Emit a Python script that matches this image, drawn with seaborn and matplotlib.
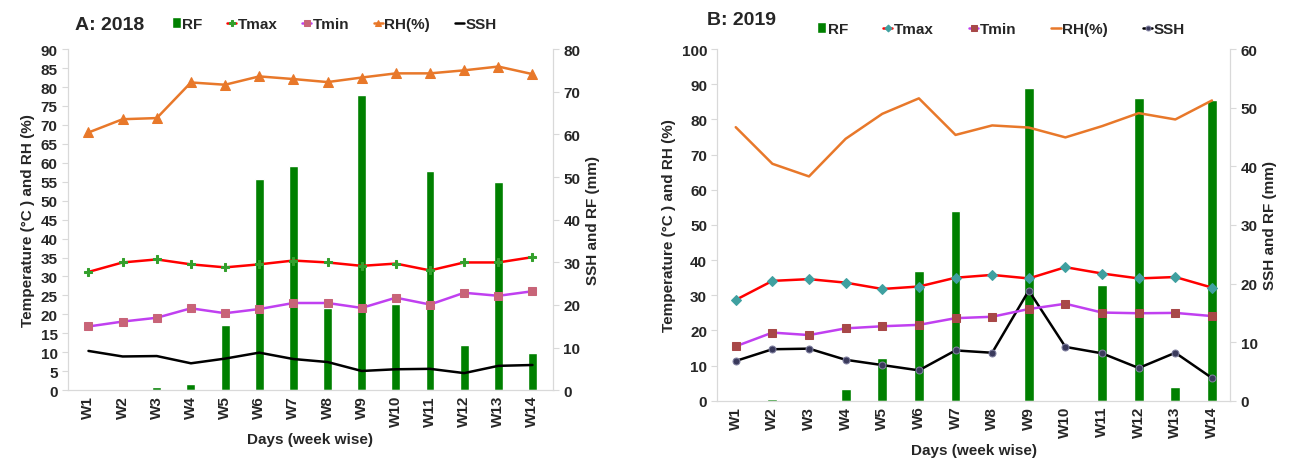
import numpy as np
import pandas as pd
import seaborn as sns
import matplotlib.pyplot as plt

weeks = ['W1', 'W2', 'W3', 'W4', 'W5', 'W6', 'W7', 'W8', 'W9', 'W10', 'W11', 'W12', 'W13', 'W14']

# 2018 weekly weather
rf_2018 = [0, 0, 0.8, 1.5, 15.2, 49.5, 52.5, 19.2, 69.3, 20.2, 51.5, 10.5, 48.8, 8.8]
tmax_2018 = [31.2, 33.7, 34.5, 33.2, 32.4, 33.2, 34.2, 33.7, 32.8, 33.4, 31.6, 33.7, 33.7, 35.1]
tmin_2018 = [16.8, 18.1, 19.1, 21.6, 20.3, 21.4, 23.0, 23.0, 21.7, 24.4, 22.6, 25.7, 24.9, 26.1]
rh_2018 = [68.0, 71.5, 71.8, 81.2, 80.6, 82.8, 82.1, 81.3, 82.5, 83.6, 83.6, 84.4, 85.4, 83.4]
ssh_2018 = [9.2, 7.9, 8.0, 6.3, 7.4, 8.8, 7.3, 6.6, 4.5, 4.9, 5.0, 4.0, 5.7, 5.9]

# 2019 weekly weather
rf_2019 = [0, 0.3, 0, 2.0, 7.3, 22.2, 32.4, 0, 53.4, 0, 19.8, 51.6, 2.3, 51.3]
tmax_2019 = [28.7, 34.1, 34.6, 33.6, 31.8, 32.5, 35.0, 35.8, 34.8, 38.0, 36.2, 34.8, 35.2, 32.2]
tmin_2019 = [15.5, 19.4, 18.7, 20.6, 21.2, 21.6, 23.5, 23.9, 26.1, 27.6, 25.1, 24.9, 25.0, 24.1]
rh_2019 = [77.8, 67.4, 63.8, 74.5, 81.6, 86.0, 75.6, 78.3, 77.7, 74.9, 78.1, 81.8, 80.0, 85.4]
ssh_2019 = [6.8, 8.8, 8.9, 7.0, 6.1, 5.2, 8.6, 8.2, 18.8, 9.2, 8.1, 5.6, 8.2, 3.9]

sns.set_style("white")
plt.rcParams['font.family'] = ['Liberation Sans', 'DejaVu Sans']
plt.rcParams['font.weight'] = 'bold'

GRID = '#d9d9d9'
names = ['RF', 'Tmax', 'Tmin', 'RH(%)', 'SSH']


def make_df(rf, tmax, tmin, rh, ssh):
    return pd.DataFrame({'week': weeks, 'pos': np.arange(len(weeks)),
                         'RF': rf, 'Tmax': tmax, 'Tmin': tmin, 'RH': rh, 'SSH': ssh})


def style_axes(ax, ax2):
    for a in (ax, ax2):
        for s in a.spines.values():
            s.set_color(GRID)
        a.spines['top'].set_visible(False)
        a.tick_params(axis='y', length=4, color=GRID, labelsize=11)
    ax.tick_params(axis='x', length=0, labelsize=11, rotation=90)
    ax.set_xticks(range(len(weeks)))
    ax.set_xticklabels(weeks, fontweight='bold')
    for lab in ax.get_yticklabels() + ax2.get_yticklabels():
        lab.set_fontweight('bold')
    ax.set_xlabel('Days (week wise)', fontsize=11, fontweight='bold')
    ax.set_ylabel('Temperature (°C ) and RH (%)', fontsize=11, fontweight='bold')
    ax2.set_ylabel('SSH and RF (mm)', fontsize=11, fontweight='bold')
    # lines drawn over the bars
    ax.set_zorder(ax2.get_zorder() + 1)
    ax.patch.set_visible(False)


def collect_legend(ax, ax2):
    handles = {}
    for a in (ax, ax2):
        h, l = a.get_legend_handles_labels()
        handles.update(dict(zip(l, h)))
        if a.legend_:
            a.legend_.remove()
    return [handles[n] for n in names]


fig = plt.figure(figsize=(12.95, 4.64), dpi=100)

# ---------- A: 2018 ----------
df = make_df(rf_2018, tmax_2018, tmin_2018, rh_2018, ssh_2018)
axA = fig.add_axes([0.0525, 0.157, 0.3745, 0.735])
axA2 = axA.twinx()

sns.barplot(data=df, x='week', y='RF', order=weeks, color='#008000', saturation=1,
            width=0.26, ax=axA2, label='RF')
sns.lineplot(data=df, x='pos', y='SSH', sort=False, color='black', lw=1.8, ax=axA2, label='SSH')
sns.lineplot(data=df, x='pos', y='Tmax', sort=False, color='#ff0000', lw=1.8, marker='P',
             markersize=6, markerfacecolor='#33a02c', markeredgecolor='#33a02c', ax=axA, label='Tmax')
sns.lineplot(data=df, x='pos', y='Tmin', sort=False, color='#c040f0', lw=1.8, marker='s',
             markersize=6, markerfacecolor='#c86478', markeredgecolor='#c86478', ax=axA, label='Tmin')
sns.lineplot(data=df, x='pos', y='RH', sort=False, color='#e8782a', lw=1.8, marker='^',
             markersize=7, markerfacecolor='#e8782a', markeredgecolor='#e8782a', ax=axA, label='RH(%)')

axA.set_ylim(0, 90)
axA.set_yticks(range(0, 91, 5))
axA2.set_ylim(0, 80)
axA2.set_yticks(range(0, 81, 10))
axA.set_xlim(-0.6, 13.6)
style_axes(axA, axA2)

fig.legend(collect_legend(axA, axA2), names, loc='center', bbox_to_anchor=(0.258, 0.946), ncol=5,
           frameon=False, handlelength=0.6, handletextpad=0.1, columnspacing=1.6, fontsize=11,
           markerscale=0.7)
fig.text(0.058, 0.946, 'A: 2018', fontsize=14, fontweight='bold', va='center')

# ---------- B: 2019 ----------
df = make_df(rf_2019, tmax_2019, tmin_2019, rh_2019, ssh_2019)
axB = fig.add_axes([0.554, 0.134, 0.396, 0.758])
axB2 = axB.twinx()

sns.barplot(data=df, x='week', y='RF', order=weeks, color='#008000', saturation=1,
            width=0.27, ax=axB2, label='RF')
sns.lineplot(data=df, x='pos', y='SSH', sort=False, color='black', lw=1.8, marker='o',
             markersize=5, markerfacecolor='#3a3a5c', markeredgecolor='#8080a0', ax=axB2, label='SSH')
sns.lineplot(data=df, x='pos', y='Tmax', sort=False, color='#ff0000', lw=1.8, marker='D',
             markersize=5, markerfacecolor='#3fa0a0', markeredgecolor='#3fa0a0', ax=axB, label='Tmax')
sns.lineplot(data=df, x='pos', y='Tmin', sort=False, color='#c040f0', lw=1.8, marker='s',
             markersize=6, markerfacecolor='#a84848', markeredgecolor='#a84848', ax=axB, label='Tmin')
sns.lineplot(data=df, x='pos', y='RH', sort=False, color='#e8782a', lw=1.8, ax=axB, label='RH(%)')

axB.set_ylim(0, 100)
axB.set_yticks(range(0, 101, 10))
axB2.set_ylim(0, 60)
axB2.set_yticks(range(0, 61, 10))
axB.set_xlim(-0.5, 13.5)
style_axes(axB, axB2)

fig.legend(collect_legend(axB, axB2), names, loc='center', bbox_to_anchor=(0.773, 0.935), ncol=5,
           frameon=False, handlelength=0.6, handletextpad=0.1, columnspacing=2.3, fontsize=11,
           markerscale=0.7)
fig.text(0.546, 0.955, 'B: 2019', fontsize=14, fontweight='bold', va='center')

plt.savefig('out.png', dpi=100)
